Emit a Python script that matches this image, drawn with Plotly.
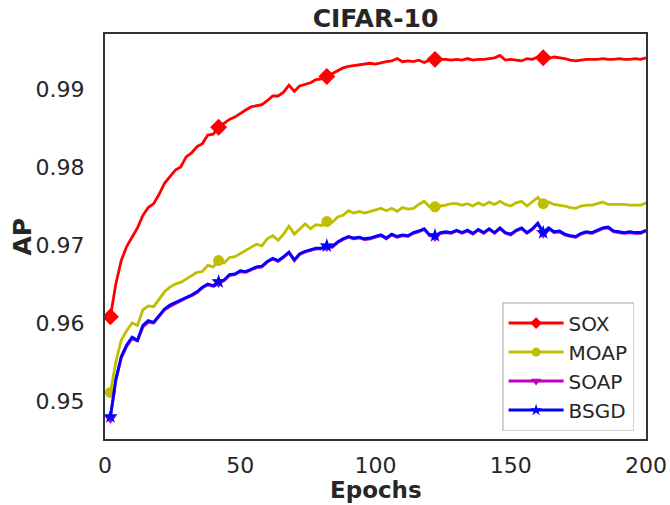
import plotly.graph_objects as go

# ---------------------------------------------------------------------------
# data (one value every 2 epochs)
epochs = list(range(2, 201, 2))

sox = [0.9608, 0.9650, 0.9680, 0.9698, 0.9710, 0.9722, 0.9738, 0.9748, 0.9753, 0.9765,
       0.9779, 0.9787, 0.9796, 0.9800, 0.9813, 0.9818, 0.9826, 0.9830, 0.9841, 0.9842,
       0.9851, 0.9856, 0.9861, 0.9864, 0.9869, 0.9873, 0.9877, 0.9879, 0.9880, 0.9885,
       0.9891, 0.9891, 0.9896, 0.9905, 0.9897, 0.9904, 0.9906, 0.9908, 0.9912, 0.9913,
       0.9916, 0.9920, 0.9924, 0.9927, 0.9929, 0.9930, 0.9931, 0.9932, 0.9933, 0.9932,
       0.9934, 0.9935, 0.9936, 0.9939, 0.9935, 0.9936, 0.9935, 0.9937, 0.9934, 0.9937,
       0.9938, 0.9938, 0.9938, 0.9937, 0.9938, 0.9937, 0.9939, 0.9937, 0.9938, 0.9938,
       0.9939, 0.9940, 0.9943, 0.9937, 0.9938, 0.9937, 0.9936, 0.9939, 0.9938, 0.9941,
       0.9940, 0.9939, 0.9941, 0.9940, 0.9939, 0.9937, 0.9936, 0.9937, 0.9938, 0.9938,
       0.9938, 0.9939, 0.9938, 0.9938, 0.9939, 0.9938, 0.9938, 0.9939, 0.9938, 0.9940]

moap = [0.9511, 0.9550, 0.9578, 0.9590, 0.9600, 0.9597, 0.9617, 0.9622, 0.9621, 0.9630,
        0.9640, 0.9646, 0.9650, 0.9652, 0.9656, 0.9661, 0.9665, 0.9666, 0.9674, 0.9672,
        0.9680, 0.9677, 0.9684, 0.9685, 0.9689, 0.9693, 0.9696, 0.9701, 0.9699, 0.9708,
        0.9712, 0.9706, 0.9714, 0.9724, 0.9714, 0.9720, 0.9727, 0.9721, 0.9726, 0.9725,
        0.9730, 0.9729, 0.9736, 0.9738, 0.9744, 0.9741, 0.9743, 0.9741, 0.9743, 0.9744,
        0.9747, 0.9744, 0.9747, 0.9743, 0.9748, 0.9746, 0.9747, 0.9752, 0.9756, 0.9749,
        0.9749, 0.9750, 0.9751, 0.9753, 0.9753, 0.9751, 0.9753, 0.9750, 0.9754, 0.9751,
        0.9755, 0.9752, 0.9756, 0.9752, 0.9750, 0.9754, 0.9756, 0.9750, 0.9755, 0.9761,
        0.9753, 0.9755, 0.9752, 0.9751, 0.9750, 0.9748, 0.9747, 0.9750, 0.9751, 0.9751,
        0.9753, 0.9755, 0.9752, 0.9752, 0.9752, 0.9752, 0.9751, 0.9751, 0.9751, 0.9754]

soap = [0.9478, 0.9526, 0.9555, 0.9570, 0.9580, 0.9577, 0.9595, 0.9601, 0.9600, 0.9608,
        0.9617, 0.9621, 0.9625, 0.9628, 0.9632, 0.9635, 0.9639, 0.9645, 0.9649, 0.9647,
        0.9652, 0.9654, 0.9661, 0.9662, 0.9666, 0.9665, 0.9668, 0.9671, 0.9672, 0.9678,
        0.9682, 0.9679, 0.9684, 0.9690, 0.9680, 0.9688, 0.9691, 0.9693, 0.9695, 0.9695,
        0.9698, 0.9697, 0.9703, 0.9707, 0.9710, 0.9708, 0.9709, 0.9707, 0.9708, 0.9710,
        0.9712, 0.9708, 0.9713, 0.9710, 0.9712, 0.9711, 0.9715, 0.9717, 0.9720, 0.9712,
        0.9711, 0.9715, 0.9716, 0.9715, 0.9718, 0.9715, 0.9718, 0.9714, 0.9719, 0.9715,
        0.9720, 0.9715, 0.9721, 0.9715, 0.9713, 0.9718, 0.9721, 0.9715, 0.9720, 0.9727,
        0.9715, 0.9721, 0.9716, 0.9717, 0.9713, 0.9711, 0.9710, 0.9714, 0.9716, 0.9715,
        0.9718, 0.9721, 0.9722, 0.9717, 0.9716, 0.9715, 0.9716, 0.9715, 0.9715, 0.9718]

bsgd = [0.9480, 0.9528, 0.9557, 0.9572, 0.9582, 0.9578, 0.9597, 0.9603, 0.9601, 0.9610,
        0.9618, 0.9623, 0.9626, 0.9629, 0.9633, 0.9636, 0.9640, 0.9646, 0.9650, 0.9648,
        0.9653, 0.9655, 0.9662, 0.9663, 0.9667, 0.9666, 0.9669, 0.9672, 0.9673, 0.9679,
        0.9683, 0.9680, 0.9685, 0.9691, 0.9681, 0.9689, 0.9692, 0.9694, 0.9696, 0.9696,
        0.9699, 0.9698, 0.9704, 0.9708, 0.9711, 0.9709, 0.9710, 0.9708, 0.9709, 0.9711,
        0.9713, 0.9709, 0.9714, 0.9711, 0.9713, 0.9712, 0.9716, 0.9718, 0.9721, 0.9713,
        0.9712, 0.9716, 0.9717, 0.9716, 0.9719, 0.9716, 0.9719, 0.9715, 0.9720, 0.9716,
        0.9721, 0.9716, 0.9722, 0.9716, 0.9714, 0.9719, 0.9722, 0.9716, 0.9721, 0.9728,
        0.9716, 0.9722, 0.9717, 0.9718, 0.9714, 0.9712, 0.9711, 0.9715, 0.9717, 0.9716,
        0.9719, 0.9722, 0.9723, 0.9718, 0.9717, 0.9716, 0.9717, 0.9716, 0.9716, 0.9719]

# spread of the shaded bands (+/- around each curve)
sox_std = 0.00006
moap_std = 0.00012
soap_std = 0.00020
bsgd_std = 0.00012

x_ticks = [0, 50, 100, 150, 200]
y_ticks = [0.95, 0.96, 0.97, 0.98, 0.99]

#---------------------------------------------------------------------------
FONT = "DejaVu Sans"
TXT = "#262626"

series = [
    ("SOX", sox, sox_std, "#ff0000", "rgba(255,0,0,0.18)", "diamond", 13),
    ("MOAP", moap, moap_std, "#bfbf00", "rgba(191,191,0,0.18)", "circle", 11),
    ("SOAP", soap, soap_std, "#bf00bf", "rgba(170,110,255,0.28)", "triangle-down", 11),
    ("BSGD", bsgd, bsgd_std, "#0000ff", "rgba(150,120,255,0.28)", "star", 11),
]

fig = go.Figure()

for name, vals, sd, col, band, sym, msize in series:
    upper = [v + sd for v in vals]
    lower = [v - sd for v in vals]
    fig.add_trace(go.Scatter(x=epochs + epochs[::-1], y=upper + lower[::-1],
                             fill="toself", fillcolor=band, mode="none",
                             hoverinfo="skip", showlegend=False))

for name, vals, sd, col, band, sym, msize in series:
    fig.add_trace(go.Scatter(x=epochs, y=vals, mode="lines",
                             line=dict(color=col, width=2.8),
                             showlegend=False))
    fig.add_trace(go.Scatter(x=epochs[::20], y=vals[::20], mode="markers",
                             marker=dict(color=col, symbol=sym, size=msize,
                                         line=dict(width=0)),
                             showlegend=False))
    # legend entry only
    fig.add_trace(go.Scatter(x=[None], y=[None], mode="lines+markers", name=name,
                             line=dict(color=col, width=3),
                             marker=dict(color=col, symbol=sym, size=9)))

fig.update_layout(
    width=670, height=505,
    margin=dict(l=105, r=24, t=34, b=66),
    paper_bgcolor="white", plot_bgcolor="white",
    font=dict(family=FONT, color=TXT, size=22),
    title=dict(text="<b>CIFAR-10</b>", x=(105 + 646) / 2 / 670, xanchor="center",
               y=1 - 18 / 505, yanchor="middle", yref="container",
               font=dict(family=FONT, size=25, color=TXT)),
    legend=dict(x=0.734, y=0.338, xanchor="left", yanchor="top",
                bgcolor="white", bordercolor="#d0d0d0", borderwidth=1.5,
                font=dict(family=FONT, size=20, color=TXT),
                tracegroupgap=0, itemwidth=55),
    annotations=[
        dict(text="<b>Epochs</b>", xref="paper", yref="paper", x=0.5, y=-(504 - 439) / 405,
             xanchor="center", yanchor="bottom", showarrow=False, borderpad=0,
             font=dict(size=23, color=TXT)),
        dict(text="<b>AP</b>", xref="paper", yref="paper", x=-83 / 541, y=0.5,
             xanchor="center", yanchor="middle", textangle=-90, showarrow=False,
             font=dict(size=25, color=TXT)),
    ],
)

fig.update_xaxes(
    range=[0, 200], tickvals=x_ticks, showgrid=False, zeroline=False,
    showline=True, mirror=True, linecolor="#333333", linewidth=2,
    ticks="outside", ticklen=6, tickcolor="rgba(0,0,0,0)",
    tickfont=dict(size=22, color=TXT), automargin=False,
)
fig.update_yaxes(
    range=[0.94513, 0.99705], tickvals=y_ticks, tickformat=".2f",
    showgrid=False, zeroline=False,
    showline=True, mirror=True, linecolor="#333333", linewidth=2,
    ticks="outside", ticklen=14, tickcolor="rgba(0,0,0,0)",
    tickfont=dict(size=22, color=TXT), automargin=False,
)

# the page body has a default 8px margin; drop it so the figure fills the window
fig.write_html("out.html", config={"displayModeBar": False},
               post_script="document.body.style.margin='0';")
